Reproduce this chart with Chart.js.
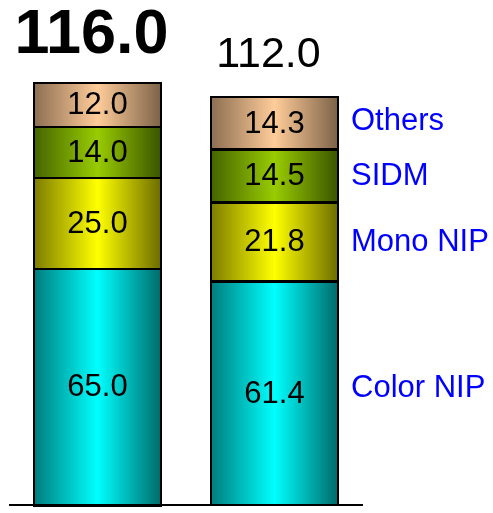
<!DOCTYPE html>
<html>
<head>
<meta charset="utf-8">
<script src="https://cdn.jsdelivr.net/npm/chart.js@4.4.1/dist/chart.umd.min.js"></script>
<style>
  html, body { margin: 0; padding: 0; background: #ffffff; overflow: hidden; }
  #wrap { width: 493px; height: 513px; }
</style>
</head>
<body>
<div id="wrap"><canvas id="chart" width="493" height="513"></canvas></div>
<script>
// Market volume by printer technology, two periods (stacked)
const categories = ['Period 1', 'Period 2'];
const seriesNames = ['Color NIP', 'Mono NIP', 'SIDM', 'Others'];
const colorNIP = [65.0, 61.4];
const monoNIP  = [25.0, 21.8];
const sidm     = [14.0, 14.5];
const others   = [12.0, 14.3];

// left edge / highlight / right edge colours for the cylinder shading
const shades = [
  ['#007c7c', '#00ffff', '#006a6a'],
  ['#7c7c00', '#ffff00', '#6c6c00'],
  ['#446400', '#99cc00', '#3a5400'],
  ['#8c6e52', '#ffcc99', '#7c6248']
];

const BAR_PCT = 0.72;
const FONT = '"Liberation Sans", Arial, Helvetica, sans-serif';

function cylinderFill(c) {
  const chart = c.chart;
  const area = chart.chartArea;
  const tone = shades[c.datasetIndex];
  if (!area || c.dataIndex === undefined) return tone[1];
  const cx = chart.scales.x.getPixelForValue(c.dataIndex);
  const half = (area.width / categories.length) * BAR_PCT / 2;
  const g = chart.ctx.createLinearGradient(cx - half, 0, cx + half, 0);
  g.addColorStop(0, tone[0]);
  g.addColorStop(0.5, tone[1]);
  g.addColorStop(1, tone[2]);
  return g;
}

const series = [colorNIP, monoNIP, sidm, others];

const annotate = {
  id: 'annotate',
  afterDatasetsDraw(chart) {
    const ctx = chart.ctx;
    const area = chart.chartArea;
    ctx.save();

    // segment outlines (shared edges drawn once, 2px)
    ctx.strokeStyle = '#000000';
    ctx.lineWidth = 2;
    series.forEach((vals, d) => {
      chart.getDatasetMeta(d).data.forEach(bar => {
        const w = bar.width;
        ctx.strokeRect(Math.round(bar.x - w / 2), Math.round(bar.y), Math.round(w), Math.round(bar.base - bar.y));
      });
    });

    // baseline
    ctx.beginPath();
    ctx.moveTo(area.left, area.bottom);
    ctx.lineTo(area.right, area.bottom);
    ctx.stroke();

    // segment values
    ctx.fillStyle = '#000000';
    ctx.textAlign = 'center';
    ctx.textBaseline = 'middle';
    ctx.font = '31px ' + FONT;
    series.forEach((vals, d) => {
      chart.getDatasetMeta(d).data.forEach((bar, i) => {
        ctx.fillText(vals[i].toFixed(1), bar.x, (bar.y + bar.base) / 2 + 1);
      });
    });

    // totals above the bars
    const lastMeta = chart.getDatasetMeta(series.length - 1);
    categories.forEach((_, i) => {
      const total = series.reduce((s, v) => s + v[i], 0);
      const bar = lastMeta.data[i];
      ctx.textBaseline = 'alphabetic';
      ctx.font = (i === 0 ? 'bold 63px ' : '43px ') + FONT;
      ctx.fillText(total.toFixed(1), bar.x - 6, bar.y - 30);
    });

    // series names beside the second bar
    ctx.fillStyle = '#0000ff';
    ctx.textAlign = 'left';
    ctx.textBaseline = 'middle';
    ctx.font = '31px ' + FONT;
    const lx = area.right - 12;
    series.forEach((vals, d) => {
      const bar = chart.getDatasetMeta(d).data[1];
      const shift = d === 0 ? -6 : (d === 3 ? -3 : 0);
      ctx.fillText(seriesNames[d], lx, (bar.y + bar.base) / 2 + 1 + shift);
    });
    ctx.restore();
  }
};

new Chart(document.getElementById('chart'), {
  type: 'bar',
  data: {
    labels: categories,
    datasets: series.map((vals, d) => ({
      label: seriesNames[d],
      data: vals,
      backgroundColor: cylinderFill,
      borderWidth: 0,
      barPercentage: BAR_PCT,
      categoryPercentage: 1.0
    }))
  },
  options: {
    responsive: false,
    animation: false,
    devicePixelRatio: 1,
    layout: { padding: { left: 9, right: 130, top: 32, bottom: 8 } },
    plugins: { legend: { display: false }, tooltip: { enabled: false } },
    scales: {
      x: { stacked: true, display: false },
      y: { stacked: true, display: false, min: 0, max: 130 }
    }
  },
  plugins: [annotate]
});
</script>
</body>
</html>
